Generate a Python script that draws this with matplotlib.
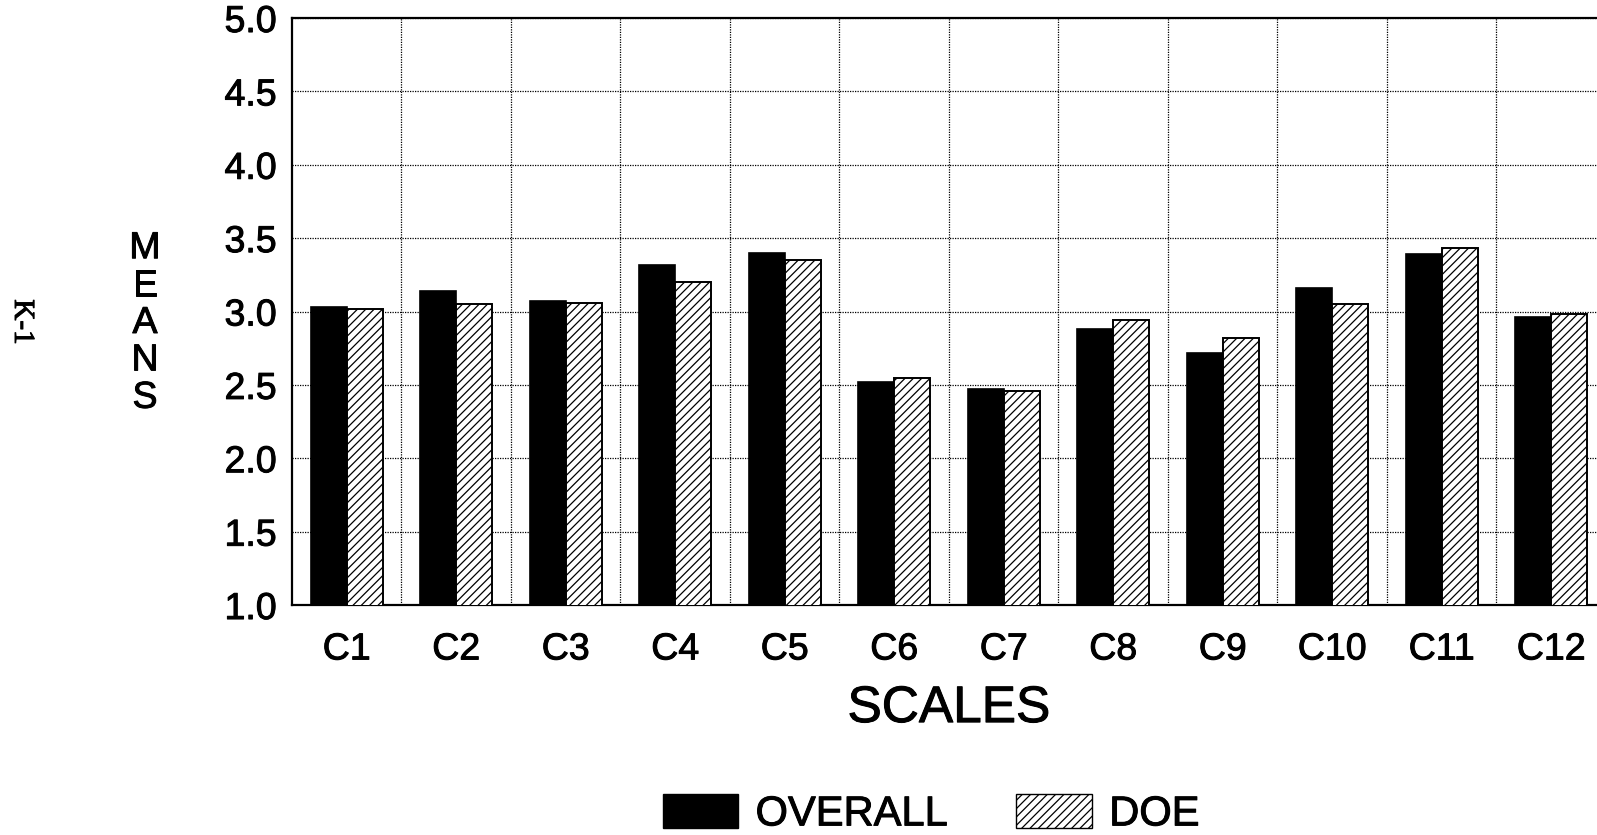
import numpy as np
import matplotlib
matplotlib.use("Agg")
import matplotlib.pyplot as plt
import matplotlib.patheffects as pe
from matplotlib.patches import Patch

categories = ["C1", "C2", "C3", "C4", "C5", "C6", "C7", "C8", "C9", "C10", "C11", "C12"]
overall = [3.03, 3.14, 3.07, 3.32, 3.40, 2.52, 2.47, 2.88, 2.72, 3.16, 3.39, 2.96]
doe = [3.02, 3.05, 3.06, 3.20, 3.35, 2.55, 2.46, 2.94, 2.82, 3.05, 3.43, 2.98]
yticks = [1.0, 1.5, 2.0, 2.5, 3.0, 3.5, 4.0, 4.5, 5.0]

plt.rcParams["font.family"] = ["Liberation Sans", "DejaVu Sans"]
plt.rcParams["hatch.linewidth"] = 0.9

# scanned print looks a bit heavier than regular weight
thick = [pe.withStroke(linewidth=0.7, foreground="black")]

fig = plt.figure(figsize=(15.97, 8.35), dpi=100)
# axes run a little past the right edge, like the scanned page
ax = fig.add_axes([0.1828, 0.2754, 0.8228, 0.703])

x = np.arange(len(categories))
w = 0.33
ax.bar(x - w / 2, overall, w, color="black", edgecolor="black", linewidth=1.2, zorder=3)
ax.bar(x + w / 2, doe, w, color="white", edgecolor="black", hatch="////", linewidth=1.4, zorder=3)

ax.set_xlim(-0.5, len(categories) - 0.5)
ax.set_ylim(1.0, 5.0)
ax.set_yticks(yticks)
ax.set_yticklabels([f"{v:.1f}" for v in yticks], fontsize=27)
ax.set_xticks(x)
ax.set_xticklabels(categories, fontsize=27)
ax.set_xticks(x[:-1] + 0.5, minor=True)
ax.tick_params(axis="both", which="both", length=0)
ax.tick_params(axis="y", pad=11)
ax.tick_params(axis="x", pad=19)
for t in ax.get_xticklabels() + ax.get_yticklabels():
    t.set_path_effects(thick)

ax.grid(True, axis="y", which="major", color="black", linestyle=(0, (1, 1)), linewidth=0.9)
ax.grid(True, axis="x", which="minor", color="black", linestyle=(0, (1, 1)), linewidth=0.9)
ax.set_axisbelow(True)

for s in ["left", "bottom", "top"]:
    ax.spines[s].set_linewidth(1.6)
ax.spines["right"].set_visible(False)

ax.set_xlabel("SCALES", fontsize=37, labelpad=12, path_effects=thick)
fig.text(145 / 1597, 1 - 323 / 835, "M\nE\nA\nN\nS", fontsize=27, ha="center", va="center",
         linespacing=1.05, path_effects=thick)
fig.text(22 / 1597, 1 - 322 / 835, "K-1", fontsize=21, rotation=-90, ha="center", va="center",
         family=["Liberation Serif", "DejaVu Serif"], path_effects=thick)

handles = [Patch(facecolor="black", edgecolor="black", label="OVERALL"),
           Patch(facecolor="white", edgecolor="black", hatch="////", label="DOE")]
leg = fig.legend(handles=handles, loc="center", bbox_to_anchor=(931 / 1597, 0.025), ncol=2,
                 frameon=False, fontsize=30, handlelength=1.82, handleheight=0.89,
                 handletextpad=0.41, columnspacing=1.65, borderpad=0)
for t in leg.get_texts():
    t.set_path_effects(thick)

fig.savefig("out.png", dpi=100)
